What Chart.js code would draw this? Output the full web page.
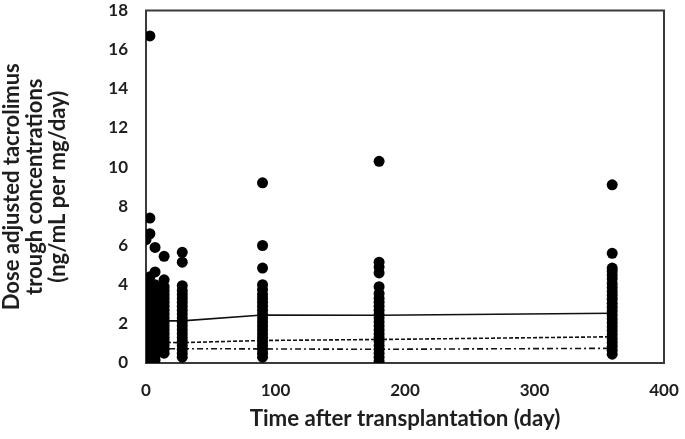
<!DOCTYPE html>
<html>
<head>
<meta charset="utf-8">
<script src="https://cdn.jsdelivr.net/npm/chart.js@4"></script>
<style>
  html, body { margin: 0; padding: 0; background: #fff; }
  #wrap { width: 685px; height: 439px; }
</style>
</head>
<body>
<div id="wrap"><canvas id="c" width="685" height="439"></canvas></div>
<script>
// ---- data ----
const xTicks = [0, 100, 200, 300, 400];
const yTicks = [0, 2, 4, 6, 8, 10, 12, 14, 16, 18];

const day0   = [0.05, 0.2, 0.35, 0.5, 0.65, 0.8, 0.95, 1.1, 1.25, 1.4, 1.55, 1.7, 1.85, 2.0, 2.15, 2.3, 2.45, 2.6, 2.75, 2.9, 3.05, 3.2, 3.6, 4.1, 6.3];
const day3   = [0.1, 0.3, 0.5, 0.7, 0.9, 1.1, 1.3, 1.5, 1.7, 1.9, 2.1, 2.3, 2.5, 2.7, 2.9, 3.1, 3.4, 3.8, 4.4, 6.6, 7.4, 16.7];
const day7   = [0.15, 0.35, 0.55, 0.75, 0.95, 1.15, 1.35, 1.55, 1.75, 1.95, 2.15, 2.35, 2.55, 2.75, 2.95, 3.15, 3.4, 3.7, 4.0, 4.65, 5.9];
const day14  = [0.5, 0.7, 0.9, 1.1, 1.3, 1.5, 1.7, 1.9, 2.1, 2.3, 2.5, 2.7, 2.9, 3.1, 3.3, 3.5, 3.7, 3.9, 4.25, 5.45];
const day28  = [0.3, 0.5, 0.7, 0.9, 1.1, 1.3, 1.5, 1.7, 1.9, 2.1, 2.3, 2.5, 2.7, 2.9, 3.1, 3.3, 3.5, 3.7, 3.95, 5.15, 5.65];
const day90  = [0.3, 0.5, 0.7, 0.9, 1.1, 1.3, 1.5, 1.7, 1.9, 2.1, 2.3, 2.5, 2.7, 2.9, 3.1, 3.3, 3.5, 3.75, 4.0, 4.85, 6.0, 9.2];
const day180 = [0.1, 0.3, 0.5, 0.7, 0.9, 1.1, 1.3, 1.5, 1.7, 1.9, 2.1, 2.3, 2.5, 2.7, 2.9, 3.1, 3.3, 3.55, 3.9, 4.6, 4.9, 5.15, 10.3];
const day360 = [0.45, 0.65, 0.85, 1.05, 1.25, 1.45, 1.65, 1.85, 2.05, 2.25, 2.45, 2.65, 2.85, 3.05, 3.25, 3.45, 3.65, 3.85, 4.05, 4.3, 4.5, 4.7, 4.85, 5.6, 9.1];

const sampleDays = [0, 3, 7, 14, 28, 90, 180, 360];
const sampleValues = [day0, day3, day7, day14, day28, day90, day180, day360];

const lineDays    = [7, 14, 28, 90, 180, 360];
const solidLine   = [2.15, 2.15, 2.15, 2.45, 2.44, 2.54];
const dashedLine  = [1.05, 1.05, 1.04, 1.15, 1.2, 1.34];
const dashDotLine = [0.73, 0.73, 0.73, 0.72, 0.70, 0.75];

const xTitle = 'Time after transplantation (day)';
const yTitle = ['Dose adjusted tacrolimus', 'trough concentrations', '(ng/mL per mg/day)'];

// ---- build ----
const scatterPts = [];
sampleDays.forEach((d, i) => sampleValues[i].forEach(v => scatterPts.push({x: d, y: v})));
const toPts = arr => lineDays.map((d, i) => ({x: d, y: arr[i]}));

const FONT = 'Lato, "Open Sans", sans-serif';
const TXT = '#1e1e1e';

const frame = {
  id: 'frame',
  beforeDatasetsDraw(chart) {
    const {ctx, chartArea: a} = chart;
    ctx.save();
    ctx.strokeStyle = '#3a3a3a';
    ctx.lineWidth = 2;
    ctx.strokeRect(a.left, a.top, a.right - a.left, a.bottom - a.top);
    ctx.restore();
  }
};

const zeroPad = s => { s.paddingTop = 0; s.paddingBottom = 0; s.paddingLeft = 0; s.paddingRight = 0; };

new Chart(document.getElementById('c'), {
  type: 'scatter',
  data: {
    datasets: [
      { label: 'solid', type: 'line', data: toPts(solidLine), borderColor: '#111', borderWidth: 1.6, pointRadius: 0, fill: false, tension: 0, order: 2 },
      { label: 'dashed', type: 'line', data: toPts(dashedLine), borderColor: '#111', borderWidth: 1.6, borderDash: [4, 2], pointRadius: 0, fill: false, tension: 0, order: 2 },
      { label: 'dashdot', type: 'line', data: toPts(dashDotLine), borderColor: '#111', borderWidth: 1.6, borderDash: [6, 3, 2, 3], pointRadius: 0, fill: false, tension: 0, order: 2 },
      { label: 'obs', data: scatterPts, backgroundColor: '#000', borderColor: '#000', borderWidth: 0, pointRadius: 5.5, order: 1 }
    ]
  },
  options: {
    responsive: false,
    animation: false,
    events: [],
    layout: { padding: { left: 0, right: 21, top: 10.5, bottom: 0 } },
    plugins: { legend: { display: false }, tooltip: { enabled: false } },
    scales: {
      x: {
        type: 'linear', min: 0, max: 400,
        afterBuildTicks: s => { s.ticks = xTicks.map(v => ({value: v})); },
        afterFit: s => { s.height = 76; zeroPad(s); },
        grid: { display: false, drawTicks: false, tickLength: 0 },
        border: { display: false },
        ticks: { padding: 17, color: TXT, font: { family: FONT, size: 17, weight: 'bold' }, maxRotation: 0 },
        title: { display: true, text: xTitle, color: TXT, padding: { top: 0, bottom: 9.5 }, font: { family: FONT, size: 22.3, weight: 'bold', lineHeight: 1.0 } }
      },
      y: {
        type: 'linear', min: 0, max: 18,
        afterBuildTicks: s => { s.ticks = yTicks.map(v => ({value: v})); },
        afterFit: s => { s.width = 146; zeroPad(s); },
        grid: { display: false, drawTicks: false, tickLength: 0 },
        border: { display: false },
        ticks: { padding: 18, color: TXT, font: { family: FONT, size: 17, weight: 'bold' } },
        title: { display: true, text: yTitle, color: TXT, padding: { top: 0, bottom: 0 }, font: { family: FONT, size: 22, weight: 'bold', lineHeight: 1.05 } }
      }
    }
  },
  plugins: [frame]
});
</script>
</body>
</html>
